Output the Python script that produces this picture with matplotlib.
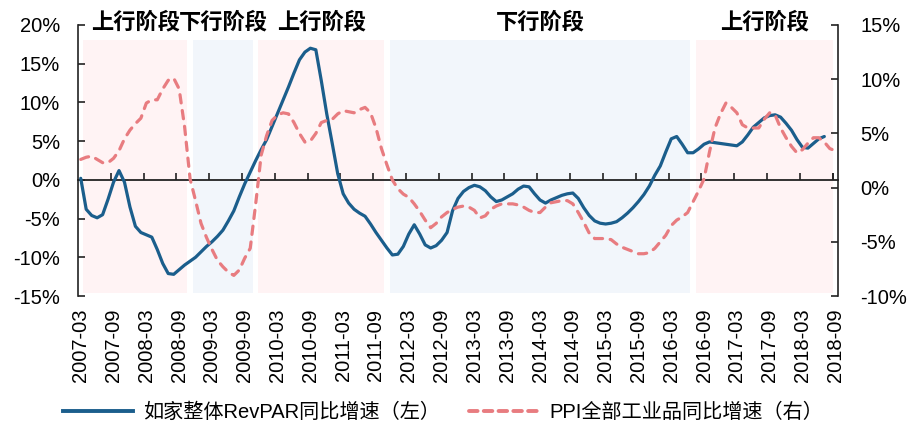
import matplotlib
matplotlib.use('Agg')
import matplotlib.pyplot as plt
from matplotlib.lines import Line2D
import pandas as pd

plt.rcParams['font.family'] = ['Liberation Sans', 'Noto Sans CJK SC']
plt.rcParams['axes.unicode_minus'] = False

# 月度数据 2007-03 ~ 2018-09
months = pd.period_range('2007-03', '2018-09', freq='M').strftime('%Y-%m').tolist()

# 如家整体RevPAR同比增速（左轴, %）
revpar = [0.2, -3.8, -4.6, -4.9, -4.5, -2.5, -0.3, 1.2, -0.3, -3.5,
          -6.0, -6.8, -7.1, -7.4, -9.0, -10.8, -12.1, -12.2, -11.6, -11.0, -10.5, -10.0,
          -9.3, -8.6, -8.0, -7.3, -6.5, -5.3, -4.0, -2.2, -0.5, 1.0, 2.5, 3.9,
          5.2, 6.9, 8.6, 10.3, 12.0, 13.8, 15.5, 16.5, 17.0, 16.8, 12.8, 8.5,
          4.7, 0.8, -1.8, -3.0, -3.8, -4.3, -4.7, -5.7, -6.8, -7.8, -8.8, -9.7,
          -9.6, -8.6, -7.0, -5.8, -7.0, -8.4, -8.8, -8.5, -7.8, -6.8, -4.0, -2.4,
          -1.5, -1.0, -0.7, -0.9, -1.4, -2.2, -2.8, -2.6, -2.2, -1.8, -1.2, -0.8,
          -0.9, -1.8, -2.6, -3.0, -2.6, -2.3, -2.0, -1.8, -1.7, -2.4, -3.6, -4.6,
          -5.3, -5.6, -5.7, -5.6, -5.4, -4.9, -4.3, -3.6, -2.8, -1.9, -0.8, 0.6,
          1.8, 3.6, 5.3, 5.6, 4.6, 3.5, 3.5, 4.0, 4.6, 4.9, 4.8, 4.7,
          4.6, 4.5, 4.4, 4.9, 5.8, 6.8, 7.4, 8.0, 8.3, 8.4, 8.1, 7.3,
          6.4, 5.2, 4.2, 4.1, 4.7, 5.3, 5.6]

# PPI全部工业品同比增速（右轴, %）
ppi = [2.6, 2.8, 2.9, 2.6, 2.3, 2.3, 2.7, 3.4, 4.5, 5.3,
       5.9, 6.4, 7.8, 8.1, 8.1, 9.1, 9.9, 10.1, 9.1, 5.6, 0.8, -1.2,
       -3.3, -4.6, -5.7, -6.7, -7.3, -7.8, -8.1, -7.6, -6.5, -5.6, -1.5, 3.0,
       4.8, 6.2, 6.7, 6.9, 6.8, 6.0, 5.0, 4.2, 4.3, 5.0, 6.0, 6.2,
       6.3, 6.8, 7.1, 7.0, 6.9, 7.2, 7.4, 6.9, 5.5, 3.6, 2.1, 0.7,
       -0.1, -0.6, -0.9, -1.5, -2.2, -3.0, -3.7, -3.3, -2.7, -2.3, -2.0, -1.8,
       -1.7, -1.8, -2.1, -2.8, -2.6, -2.0, -1.7, -1.5, -1.5, -1.5, -1.6, -1.8,
       -2.1, -2.3, -2.3, -1.8, -1.4, -1.3, -1.2, -1.2, -1.5, -2.3, -3.2, -4.2,
       -4.7, -4.7, -4.7, -4.8, -5.2, -5.5, -5.7, -5.9, -6.1, -6.1, -6.0, -5.6,
       -5.0, -4.4, -3.5, -3.0, -2.7, -2.3, -1.3, -0.3, 0.8, 3.3, 5.5, 6.8,
       7.8, 7.4, 6.9, 5.8, 5.5, 5.5, 5.5, 6.3, 6.9, 6.7, 5.5, 4.6,
       3.8, 3.2, 3.5, 4.1, 4.6, 4.6, 4.2, 3.6, 3.4]

# 阶段划分
phase_names = ['上行阶段', '下行阶段', '上行阶段', '下行阶段', '上行阶段']
phase_start = ['2007-04', '2008-12', '2009-12', '2011-12', '2016-08']
phase_end = ['2008-10', '2009-10', '2011-10', '2016-06', '2018-08']

phase_color = {'上行阶段': '#FFF3F4', '下行阶段': '#F2F6FB'}
blue = '#1B5E8C'
pink = '#E87C80'
fs = 14.5

fig = plt.figure(figsize=(9.09, 4.23), dpi=100)
ax = fig.add_axes([78 / 909, 1 - 296 / 423, 760 / 909, 271 / 423])
ax2 = ax.twinx()

x_rev = list(range(len(revpar)))
x_ppi = list(range(len(ppi)))

# 背景阶段
for name, s, e in zip(phase_names, phase_start, phase_end):
    i0 = months.index(s) - 0.5
    i1 = months.index(e) + 0.5
    ax.axvspan(i0, i1, ymin=0.011, ymax=0.946, color=phase_color[name], lw=0, zorder=0)
    ax.text((i0 + i1) / 2, 20.35, name, ha='center', va='center', fontsize=16,
            fontweight='bold', clip_on=False)

ax.plot(x_rev, revpar, color=blue, lw=2.3, solid_capstyle='round', zorder=3)
ax2.plot(x_ppi, ppi, color=pink, lw=2.3, dashes=(2.6, 2.4), dash_capstyle='round', zorder=3)

ax.set_xlim(-0.5, len(months) - 0.5)
ax.set_ylim(-15, 20)
ax2.set_ylim(-10, 15)

ax.set_yticks(range(-15, 21, 5))
ax.set_yticklabels(['{}%'.format(v) for v in range(-15, 21, 5)])
ax2.set_yticks(range(-10, 16, 5))
ax2.set_yticklabels(['{}%'.format(v) for v in range(-10, 16, 5)])

for a in (ax, ax2):
    a.spines['top'].set_visible(False)
    a.patch.set_visible(False) if a is ax2 else None
ax2.spines['bottom'].set_visible(False)
ax2.spines['left'].set_visible(False)
ax.spines['right'].set_visible(False)
ax.spines['left'].set_color('#222222')
ax2.spines['right'].set_color('#222222')
ax.spines['left'].set_linewidth(1.2)
ax2.spines['right'].set_linewidth(1.2)

# 0轴
ax.spines['bottom'].set_position(('data', 0))
ax.spines['bottom'].set_color('#222222')
ax.spines['bottom'].set_linewidth(1.3)
ax.spines['bottom'].set_zorder(2)
ax.set_xticks([i - 0.5 for i in range(6, len(months), 6)] + [len(months) - 1.5])
ax.tick_params(axis='x', direction='in', length=5, width=1.2, color='#222222', labelbottom=False)
ax.tick_params(axis='y', direction='in', length=5, width=1.2, color='#222222', labelsize=fs, pad=13)
ax2.tick_params(axis='y', direction='in', length=5, width=1.2, color='#222222', labelsize=fs, pad=16)

# 日期标签放在底部
sec = ax.secondary_xaxis(0)
sec.set_xticks(range(0, len(months), 6))
sec.set_xticklabels(months[::6], rotation=90, fontsize=fs)
sec.tick_params(axis='x', length=0, pad=9)
sec.spines['bottom'].set_visible(False)

handles = [Line2D([], [], color=blue, lw=2.8),
           Line2D([], [], color=pink, lw=2.8, dashes=(2.2, 1.6), dash_capstyle='round')]
labels = ['如家整体RevPAR同比增速（左）', 'PPI全部工业品同比增速（右）']
fig.legend(handles, labels, loc='center', bbox_to_anchor=(443 / 909, 0.026), ncol=2,
           frameon=False, fontsize=fs, handlelength=3.5, handletextpad=0.5, columnspacing=1.4)

fig.savefig('out.png', dpi=100)
